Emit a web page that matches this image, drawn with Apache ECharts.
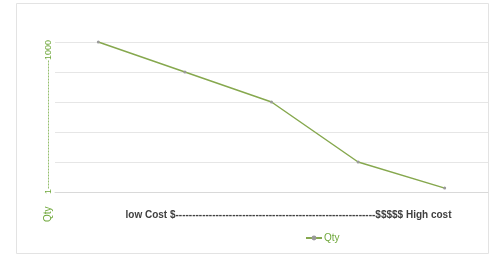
<!DOCTYPE html>
<html>
<head>
<meta charset="utf-8">
<script src="https://cdn.jsdelivr.net/npm/echarts@6/dist/echarts.min.js"></script>
<style>
html,body{margin:0;padding:0;background:#fff;}
#chart{width:499px;height:257px;}
</style>
</head>
<body>
<div id="chart"></div>
<script>
// data
var categories = ['1', '2', '3', '4', '5'];
var qty = [5, 4, 3, 1, 0.13];
var yTickMin = 0, yTickMax = 5, yStep = 1;

var chartDom = document.getElementById('chart');
var myChart = echarts.init(chartDom);

var green = '#70a83c';
var dashesY = new Array(44).join('-');
var dashesX = new Array(61).join('-');

var option = {
    backgroundColor: '#fff',
    animation: false,
    textStyle: { fontFamily: 'Liberation Sans' },
    grid: { left: 55, right: 11, top: 42, bottom: 65, containLabel: false },
    graphic: [
        { type: 'rect', shape: { x: 16.5, y: 3.5, width: 472, height: 250 },
          style: { fill: 'none', stroke: '#e3e3e3', lineWidth: 1 }, silent: true },
        { type: 'text', x: 43, y: 222, rotation: Math.PI / 2,
          style: { text: 'Qty', fill: green, fontSize: 10, fontFamily: 'Liberation Sans' } }
    ],
    legend: {
        bottom: 9, left: 300,
        itemWidth: 16, itemHeight: 6, itemGap: 4,
        textStyle: { color: green, fontSize: 10, padding: [0, 0, 0, -3] },
        data: ['Qty']
    },
    xAxis: {
        type: 'category',
        data: categories,
        boundaryGap: true,
        axisLine: { lineStyle: { color: '#d9d9d9' } },
        axisTick: { show: false },
        axisLabel: { show: false },
        name: 'low Cost $' + dashesX + '$$$$$ High cost',
        nameLocation: 'middle',
        nameGap: 18,
        nameTextStyle: { color: '#404040', fontSize: 10, fontWeight: 'bold', padding: [0, 0, 0, 34] }
    },
    yAxis: {
        type: 'value',
        min: yTickMin, max: yTickMax, interval: yStep,
        axisLine: { show: false },
        axisTick: { show: false },
        axisLabel: { show: false },
        splitLine: { lineStyle: { color: '#e6e6e6' } },
        name: '1' + dashesY + '1000',
        nameLocation: 'middle',
        nameRotate: 90,
        nameGap: 2,
        nameTextStyle: { color: green, fontSize: 9 }
    },
    series: [{
        name: 'Qty',
        type: 'line',
        data: qty,
        symbol: 'circle',
        symbolSize: 3,
        lineStyle: { color: '#86a84e', width: 1.5 },
        itemStyle: { color: '#9a9a9a' }
    }]
};
myChart.setOption(option);

window.onresize = function () {
    myChart.resize();
};
</script>
</body>
</html>
